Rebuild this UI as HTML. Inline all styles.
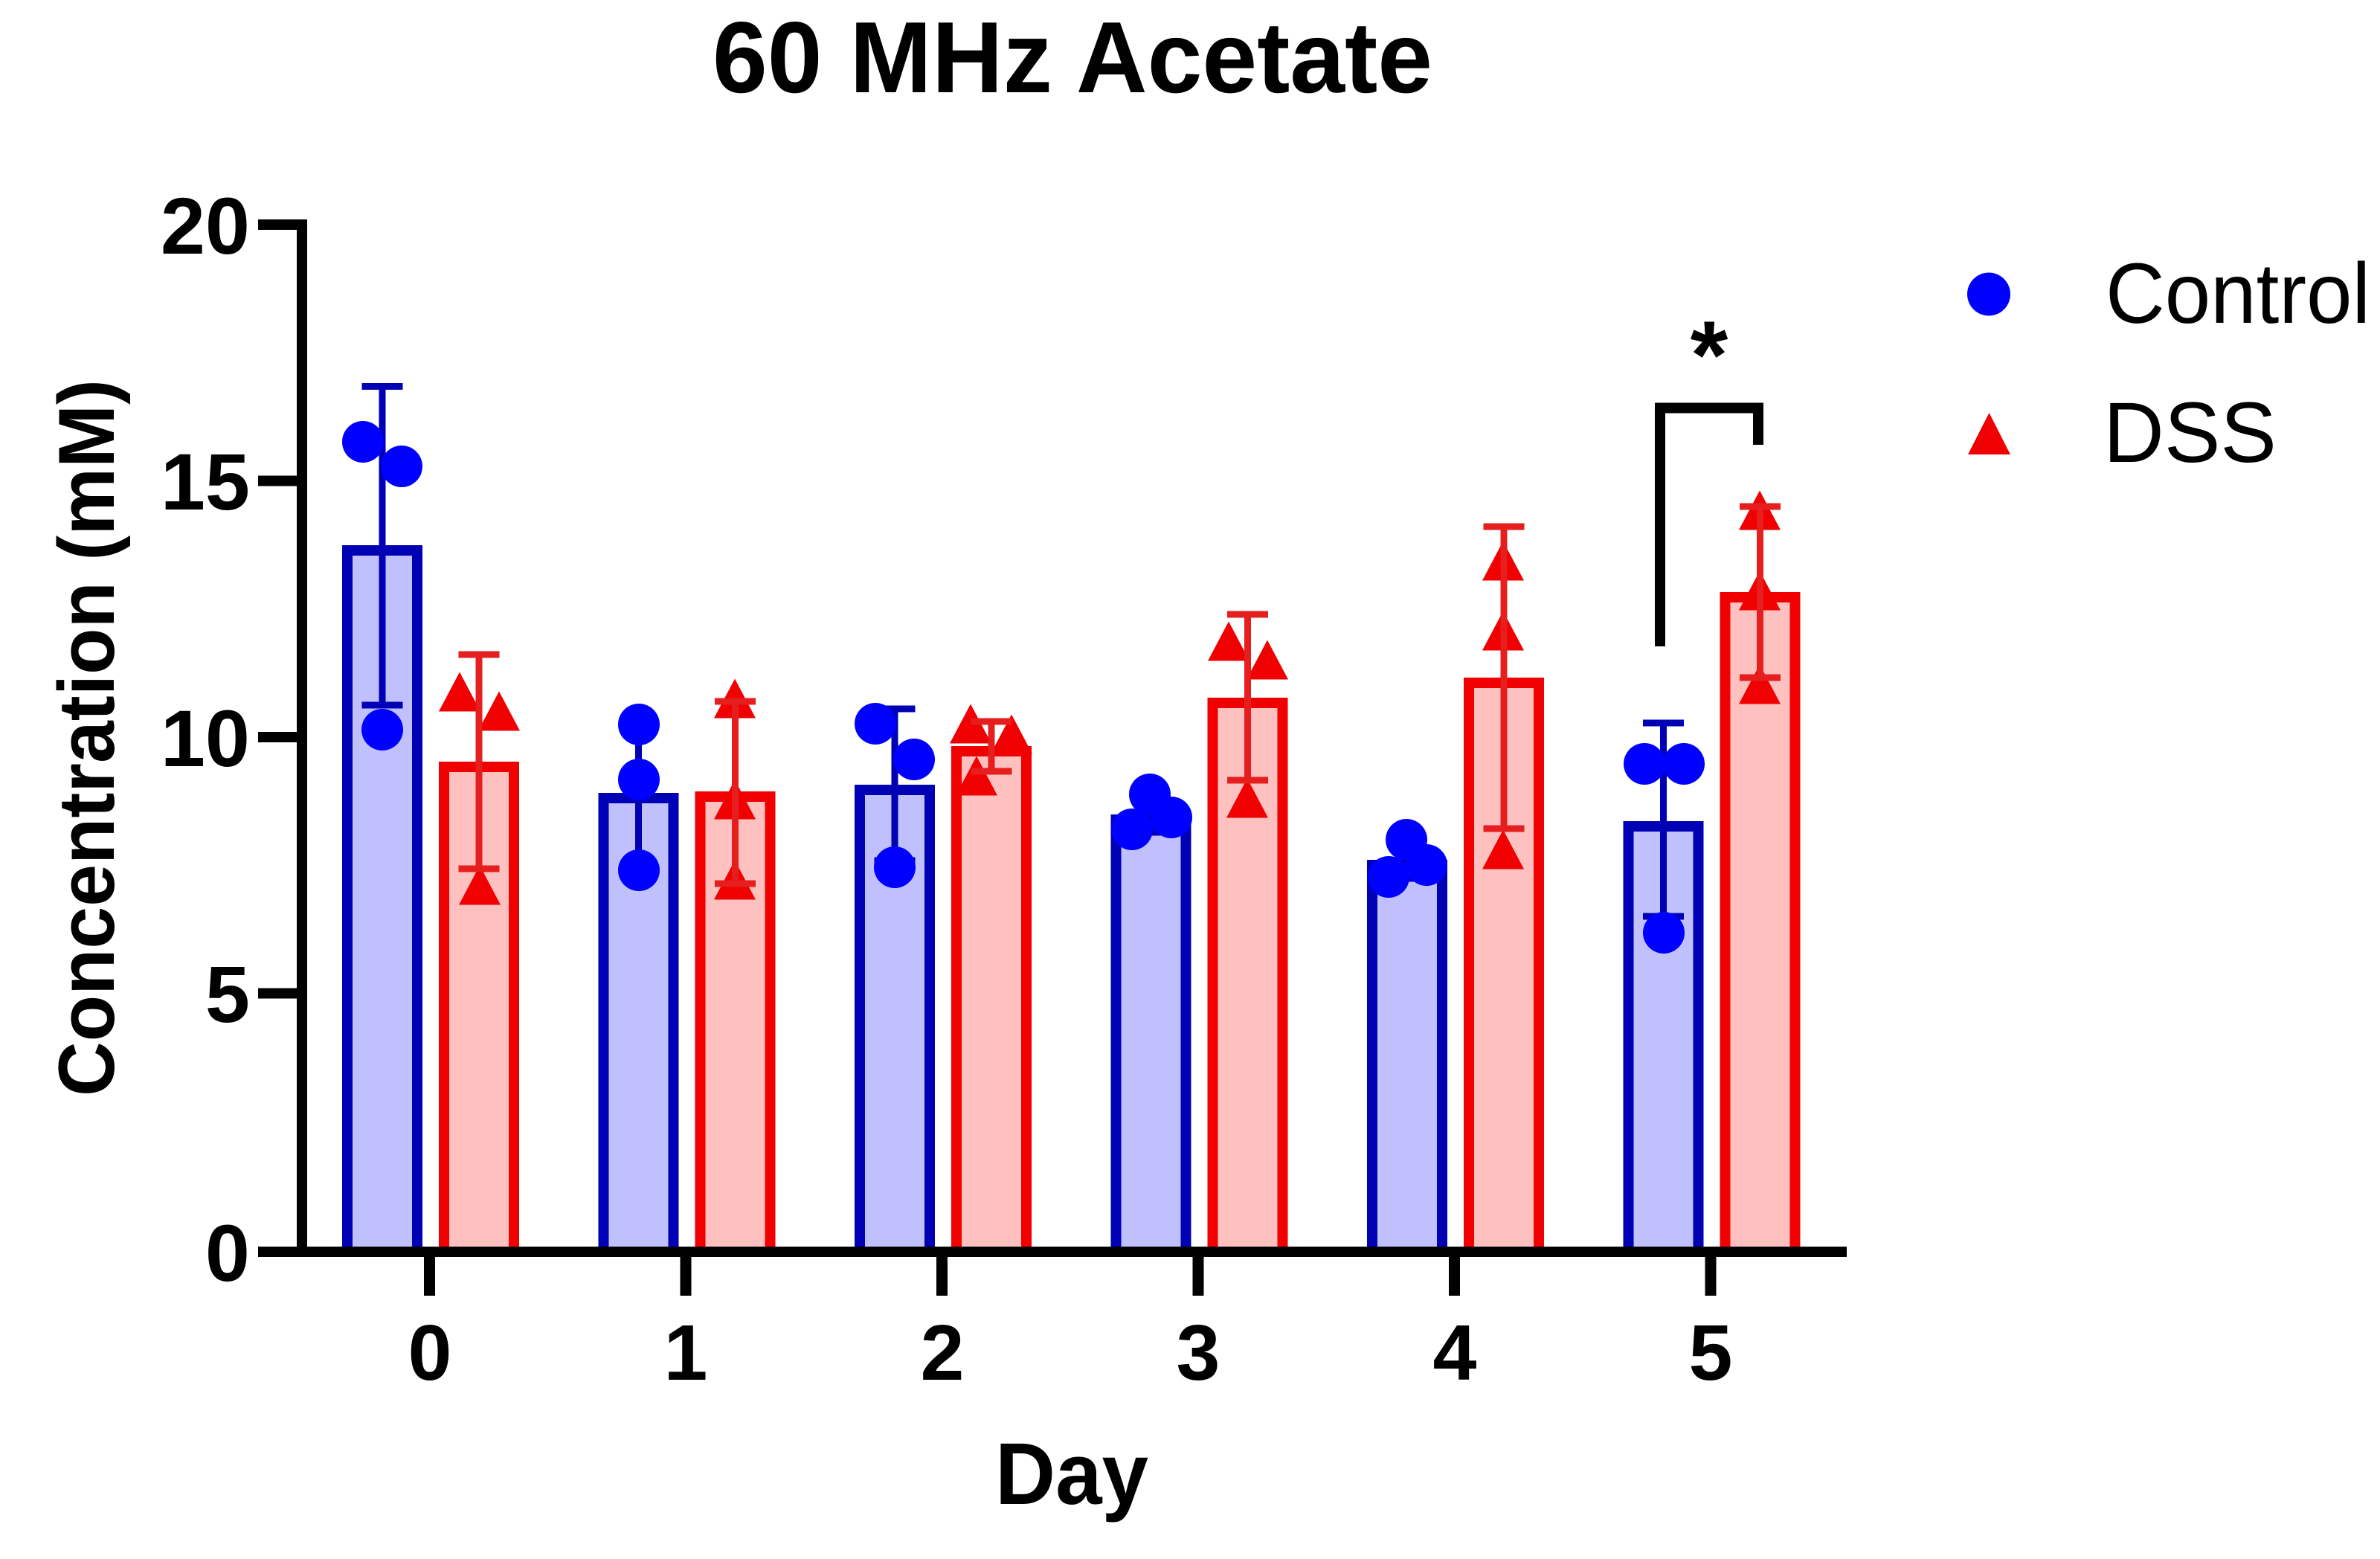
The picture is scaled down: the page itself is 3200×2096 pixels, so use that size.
<!DOCTYPE html>
<html>
<head>
<meta charset="utf-8">
<style>
  html, body { margin: 0; padding: 0; background: #ffffff; }
  body { width: 3200px; height: 2096px; overflow: hidden; }
  svg { display: block; }
  text { font-family: "Liberation Sans", Arial, Helvetica, sans-serif; fill: #000; }
</style>
</head>
<body>
<svg width="3200" height="2096" viewBox="0 0 3200 2096" xmlns="http://www.w3.org/2000/svg">
  <rect x="0" y="0" width="3200" height="2096" fill="#ffffff"/>

  <!-- Title -->
  <text x="958" y="124" font-size="136" font-weight="bold" textLength="968" lengthAdjust="spacingAndGlyphs">60 MHz Acetate</text>

  <!-- Y axis label -->
  <text x="153" y="992" font-size="107" font-weight="bold" text-anchor="middle" textLength="964" lengthAdjust="spacingAndGlyphs" transform="rotate(-90 153 992)">Concentration (mM)</text>

  <!-- X axis label -->
  <text x="1338" y="2022" font-size="118" font-weight="bold" textLength="206" lengthAdjust="spacingAndGlyphs">Day</text>

  <!-- Bars: Control (blue) -->
  <g fill="#C0C0FF" stroke="#0000B4" stroke-width="14">
    <rect x="467" y="740" width="94" height="943"/>
    <rect x="811.5" y="1073" width="94" height="610"/>
    <rect x="1156" y="1062" width="94" height="621"/>
    <rect x="1500.5" y="1102" width="94" height="581"/>
    <rect x="1845" y="1163" width="94" height="520"/>
    <rect x="2189.5" y="1111" width="94" height="572"/>
  </g>
  <!-- Bars: DSS (red) -->
  <g fill="#FFC0C0" stroke="#F00000" stroke-width="14">
    <rect x="597" y="1031" width="94" height="652"/>
    <rect x="941.5" y="1071" width="94" height="612"/>
    <rect x="1286" y="1010" width="94" height="673"/>
    <rect x="1630.5" y="945" width="94" height="738"/>
    <rect x="1975" y="918" width="94" height="765"/>
    <rect x="2319.5" y="803" width="94" height="880"/>
  </g>

  <!-- Error bars blue -->
  <g stroke="#0000B4" stroke-width="9" fill="none">
    <path d="M514 519.5V948 M486.5 519.5H541.5 M486.5 948H541.5"/>
    <path d="M858.5 970V1168 M833 970H884 M833 1168H884"/>
    <path d="M1203 953V1157 M1175.5 953H1230.5 M1175.5 1157H1230.5"/>
    <path d="M1547.5 1071V1119 M1522 1071H1573 M1522 1119H1573"/>
    <path d="M1892 1131V1181 M1866.5 1131H1917.5 M1866.5 1181H1917.5"/>
    <path d="M2236.5 972V1232 M2209 972H2264 M2209 1232H2264"/>
  </g>

  <!-- Points: Control dots -->
  <g fill="#0000FF">
    <circle cx="488" cy="594" r="28"/>
    <circle cx="540" cy="627" r="28"/>
    <circle cx="514" cy="981" r="28"/>
    <circle cx="859" cy="974" r="28"/>
    <circle cx="859" cy="1048" r="28"/>
    <circle cx="859" cy="1170" r="28"/>
    <circle cx="1177" cy="973" r="28"/>
    <circle cx="1229" cy="1021" r="28"/>
    <circle cx="1203" cy="1166" r="28"/>
    <circle cx="1546" cy="1068" r="28"/>
    <circle cx="1522" cy="1115" r="28"/>
    <circle cx="1575" cy="1099" r="28"/>
    <circle cx="1891" cy="1129" r="28"/>
    <circle cx="1867" cy="1179" r="28"/>
    <circle cx="1918" cy="1163" r="28"/>
    <circle cx="2211" cy="1027" r="28"/>
    <circle cx="2264" cy="1027" r="28"/>
    <circle cx="2237" cy="1254" r="28"/>
  </g>

  <!-- Points: DSS triangles -->
  <g fill="#F00000">
    <polygon points="618,903.5 590,956.5 646,956.5"/>
    <polygon points="671,929.5 643,982.5 699,982.5"/>
    <polygon points="645,1163.5 617,1216.5 673,1216.5"/>
    <polygon points="988,912.5 960,965.5 1016,965.5"/>
    <polygon points="988,1048.5 960,1101.5 1016,1101.5"/>
    <polygon points="988,1156.5 960,1209.5 1016,1209.5"/>
    <polygon points="1305,946.5 1277,999.5 1333,999.5"/>
    <polygon points="1360,960.5 1332,1013.5 1388,1013.5"/>
    <polygon points="1313,1016.5 1285,1069.5 1341,1069.5"/>
    <polygon points="1652,835.5 1624,888.5 1680,888.5"/>
    <polygon points="1704,860.5 1676,913.5 1732,913.5"/>
    <polygon points="1677,1046.5 1649,1099.5 1705,1099.5"/>
    <polygon points="2021,727.5 1993,780.5 2049,780.5"/>
    <polygon points="2021,821.5 1993,874.5 2049,874.5"/>
    <polygon points="2021,1115.5 1993,1168.5 2049,1168.5"/>
    <polygon points="2366,659.5 2338,712.5 2394,712.5"/>
    <polygon points="2366,767.5 2338,820.5 2394,820.5"/>
    <polygon points="2366,893.5 2338,946.5 2394,946.5"/>
  </g>

  <!-- Error bars red -->
  <g stroke="#E61E1E" stroke-width="9" fill="none">
    <path d="M644 880V1168 M616.5 880H671.5 M616.5 1168H671.5"/>
    <path d="M988.5 943V1188 M961 943H1016 M961 1188H1016"/>
    <path d="M1333 970V1037 M1305.5 970H1360.5 M1305.5 1037H1360.5"/>
    <path d="M1677.5 826V1049 M1650 826H1705 M1650 1049H1705"/>
    <path d="M2022 708V1114 M1994.5 708H2049.5 M1994.5 1114H2049.5"/>
    <path d="M2366.5 681V911 M2339 681H2394 M2339 911H2394"/>
  </g>

  <!-- Axes -->
  <g fill="#000">
    <rect x="399" y="295" width="14" height="1395"/>
    <rect x="347" y="295" width="66" height="14"/>
    <rect x="347" y="639.5" width="66" height="14"/>
    <rect x="347" y="984" width="66" height="14"/>
    <rect x="347" y="1328.5" width="66" height="14"/>
    <rect x="347" y="1676" width="2136" height="14"/>
    <rect x="570" y="1688" width="15" height="54"/>
    <rect x="914.5" y="1688" width="15" height="54"/>
    <rect x="1259" y="1688" width="15" height="54"/>
    <rect x="1603.5" y="1688" width="15" height="54"/>
    <rect x="1948" y="1688" width="15" height="54"/>
    <rect x="2292.5" y="1688" width="15" height="54"/>
  </g>

  <!-- Y tick labels -->
  <g font-size="108" font-weight="bold" text-anchor="end">
    <text x="336" y="341">20</text>
    <text x="336" y="685">15</text>
    <text x="336" y="1030">10</text>
    <text x="336" y="1374">5</text>
    <text x="336" y="1722">0</text>
  </g>

  <!-- X tick labels -->
  <g font-size="106" font-weight="bold" text-anchor="middle">
    <text x="578" y="1855">0</text>
    <text x="922" y="1855">1</text>
    <text x="1267" y="1855">2</text>
    <text x="1611" y="1855">3</text>
    <text x="1956" y="1855">4</text>
    <text x="2300" y="1855">5</text>
  </g>

  <!-- Significance bracket -->
  <path d="M2232 869V548.5H2364V598" fill="none" stroke="#000" stroke-width="14" stroke-linejoin="miter"/>
  <text x="2298" y="522" font-size="130" font-weight="bold" text-anchor="middle">*</text>

  <!-- Legend -->
  <circle cx="2674" cy="395.5" r="29" fill="#0000FF"/>
  <polygon points="2674.5,555 2646,611 2703,611" fill="#F00000"/>
  <text x="2831" y="434" font-size="115" textLength="356" lengthAdjust="spacingAndGlyphs">Control</text>
  <text x="2828" y="621" font-size="115" textLength="233" lengthAdjust="spacingAndGlyphs">DSS</text>
</svg>
</body>
</html>
